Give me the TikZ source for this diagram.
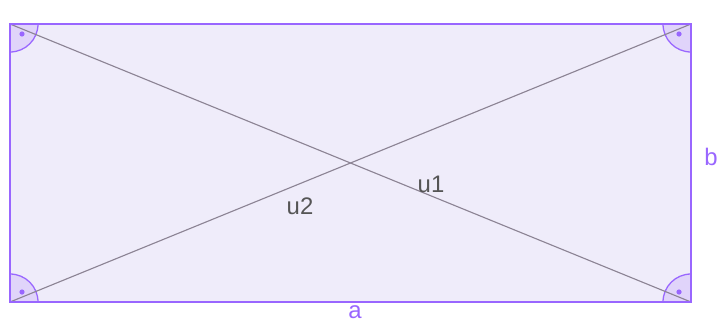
\documentclass[tikz,border=0pt]{standalone}
\usepackage{fontspec}
\setmainfont{Liberation Sans}
\usetikzlibrary{positioning}
\definecolor{geoPurple}{HTML}{9966FF}
\definecolor{geoFill}{HTML}{EFECFA}
\definecolor{geoCorner}{HTML}{E0D4FA}
\definecolor{geoLine}{HTML}{8C8494}
\definecolor{geoText}{HTML}{555555}

\begin{document}
\begin{tikzpicture}[x=0.025cm, y=-0.025cm,
    side/.style={draw=geoPurple, line width=1.3pt},
    diag/.style={draw=geoLine, line width=0.8pt},
    rangle/.style={draw=geoPurple, fill=geoCorner, line width=0.9pt},
    lbl/.style={text=geoText, font=\fontsize{17}{17}\selectfont, inner sep=0pt},
    sidelbl/.style={text=geoPurple, font=\fontsize{17}{17}\selectfont, inner sep=0pt}]
  \useasboundingbox (0,0) rectangle (722,323);

  \coordinate (A) at (10,302);
  \coordinate (B) at (691,302);
  \coordinate (C) at (691,24);
  \coordinate (D) at (10,24);

  \fill[geoFill] (A) rectangle (C);

  % right angle marks
  \filldraw[rangle] (A) -- ++(28,0) arc[start angle=0, end angle=-90, radius=28] -- cycle;
  \filldraw[rangle] (B) -- ++(0,-28) arc[start angle=-90, end angle=-180, radius=28] -- cycle;
  \filldraw[rangle] (C) -- ++(-28,0) arc[start angle=180, end angle=90, radius=28] -- cycle;
  \filldraw[rangle] (D) -- ++(0,28) arc[start angle=90, end angle=0, radius=28] -- cycle;
  \fill[geoPurple] (A) ++(12,-10) circle (2.6);
  \fill[geoPurple] (B) ++(-12,-10) circle (2.6);
  \fill[geoPurple] (C) ++(-12,10) circle (2.6);
  \fill[geoPurple] (D) ++(12,10) circle (2.6);

  \draw[diag] (D) -- (B);
  \draw[diag] (A) -- (C);

  \draw[side] (A) -- (B) -- (C) -- (D) -- cycle;

  \node[lbl] (u1) at (431,184) {u1};
  \node[lbl] (u2) at (300,206) {u2};
  \node[sidelbl] (a) at (355,312) {a};
  \node[sidelbl] (b) at (711,157) {b};
\end{tikzpicture}
\end{document}
